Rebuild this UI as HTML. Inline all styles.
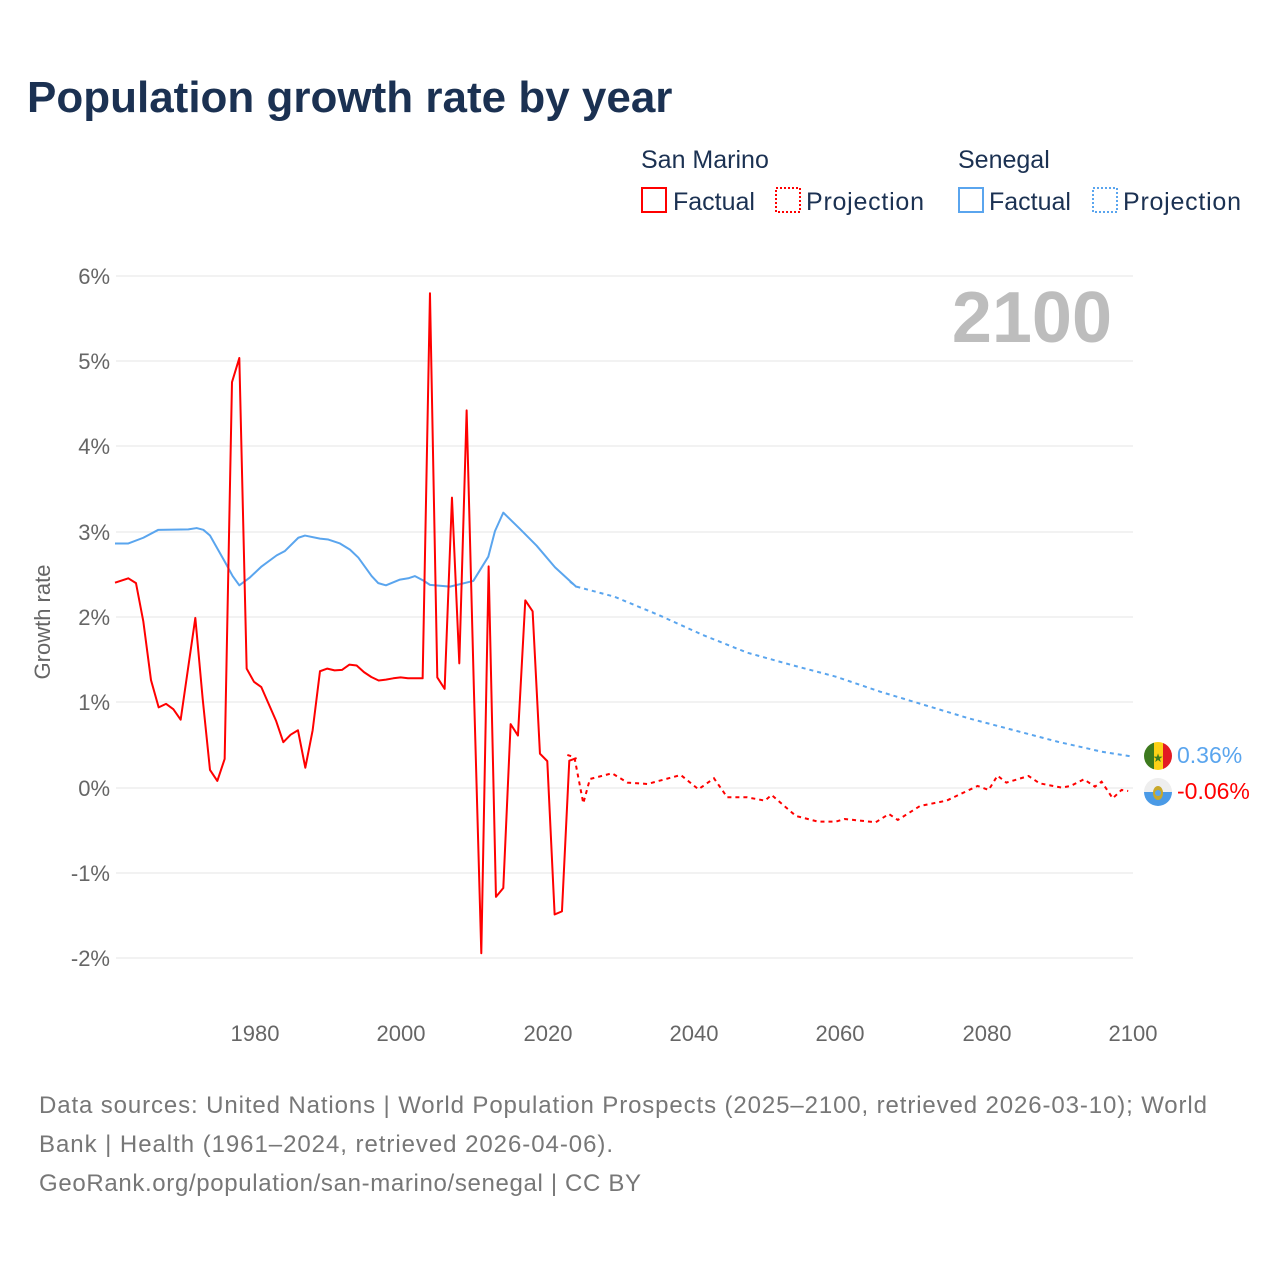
<!DOCTYPE html>
<html><head><meta charset="utf-8"><style>
html,body{margin:0;padding:0;background:#fff;}
body{width:1280px;height:1280px;position:relative;font-family:"Liberation Sans",sans-serif;overflow:hidden;}
</style></head><body>
<svg width="1280" height="1280" viewBox="0 0 1280 1280" xmlns="http://www.w3.org/2000/svg" style="position:absolute;left:0;top:0">
<text x="27" y="112" font-size="44" font-weight="bold" fill="#1b3152" font-family="Liberation Sans, sans-serif">Population growth rate by year</text>
<g font-size="25" fill="#1b3152" font-family="Liberation Sans, sans-serif">
<text x="641" y="168">San Marino</text>
<text x="958" y="168">Senegal</text>
<rect x="642" y="188" width="24" height="24" fill="none" stroke="#f00" stroke-width="2"/>
<text x="673" y="210">Factual</text>
<rect x="776" y="188" width="24" height="24" fill="none" stroke="#f00" stroke-width="2" stroke-dasharray="2,2"/>
<text x="806" y="210" textLength="118">Projection</text>
<rect x="959" y="188" width="24" height="24" fill="none" stroke="#5aa5ee" stroke-width="2"/>
<text x="989" y="210">Factual</text>
<rect x="1093" y="188" width="24" height="24" fill="none" stroke="#5aa5ee" stroke-width="2" stroke-dasharray="2,2"/>
<text x="1123" y="210" textLength="118">Projection</text>
</g>
<g stroke="#e6e6e6" stroke-width="1">
<line x1="116" x2="1133" y1="276" y2="276"/><line x1="116" x2="1133" y1="361" y2="361"/>
<line x1="116" x2="1133" y1="446" y2="446"/><line x1="116" x2="1133" y1="532" y2="532"/>
<line x1="116" x2="1133" y1="617" y2="617"/><line x1="116" x2="1133" y1="702" y2="702"/>
<line x1="116" x2="1133" y1="788" y2="788"/><line x1="116" x2="1133" y1="873" y2="873"/>
<line x1="116" x2="1133" y1="958" y2="958"/>
</g>
<g font-size="22" fill="#666" text-anchor="end" font-family="Liberation Sans, sans-serif">
<text x="110" y="284">6%</text><text x="110" y="369">5%</text><text x="110" y="454">4%</text>
<text x="110" y="540">3%</text><text x="110" y="625">2%</text><text x="110" y="710">1%</text>
<text x="110" y="796">0%</text><text x="110" y="881">-1%</text><text x="110" y="966">-2%</text>
</g>
<g font-size="22" fill="#666" text-anchor="middle" font-family="Liberation Sans, sans-serif">
<text x="255" y="1041">1980</text><text x="401" y="1041">2000</text><text x="548" y="1041">2020</text>
<text x="694" y="1041">2040</text><text x="840" y="1041">2060</text><text x="987" y="1041">2080</text>
<text x="1133" y="1041">2100</text>
</g>
<text transform="translate(50,622) rotate(-90)" font-size="22" fill="#666" text-anchor="middle" font-family="Liberation Sans, sans-serif">Growth rate</text>
<text x="1112" y="342" font-size="72" font-weight="bold" fill="#bdbdbd" text-anchor="end" font-family="Liberation Sans, sans-serif">2100</text>
<g transform="translate(110,280) scale(0.3333,0.4406)" fill="none" stroke-linejoin="round">
<polyline vector-effect="non-scaling-stroke" stroke="#5aa5ee" stroke-width="2" points="15,598 55,598 100,585 145,567 235,566 260,563 280,567 300,580 345,640 368,672 388,693 420,675 455,650 500,625 525,615 565,585 585,580 630,587 655,589 690,598 720,612 745,630 785,672 805,688 828,693 870,680 895,677 915,672 940,682 960,692 1020,696 1090,683 1135,628 1155,570 1180,528 1230,565 1280,603 1335,652 1400,697"/>
<polyline vector-effect="non-scaling-stroke" stroke="#f00" stroke-width="2" points="15,687 55,677 78,688 100,775 123,908 146,970 168,962 190,974 212,998 256,767 278,950 300,1112 322,1137 344,1087 366,232 388,177 410,882 432,912 454,924 476,962 498,1000 520,1049 542,1032 564,1022 586,1107 608,1022 630,888 652,882 674,886 696,885 718,873 740,875 762,890 784,901 806,909 828,907 850,904 872,902 894,904 916,904 938,904 960,30 982,902 1004,928 1026,494 1048,870 1070,296 1092,935 1114,1528 1136,650 1158,1400 1180,1380 1202,1008 1224,1034 1246,727 1268,752 1290,1075 1312,1092 1334,1440 1356,1433 1378,1091 1400,1085"/>
</g>
<g transform="translate(570,560) scale(0.443,0.3333)" fill="none">
<polyline vector-effect="non-scaling-stroke" stroke="#5aa5ee" stroke-width="2" stroke-dasharray="4,4" points="0,65 15,80 100,110 200,165 300,225 400,278 500,315 600,350 700,395 800,435 900,475 1000,510 1100,545 1200,575 1270,590"/>
<polyline vector-effect="non-scaling-stroke" stroke="#f00" stroke-width="2" stroke-dasharray="4,4" points="-6,585 10,592 30,730 45,657 95,640 130,668 175,672 250,645 290,688 325,655 355,712 400,712 440,722 455,705 510,768 560,785 600,785 620,777 690,787 720,762 740,780 790,738 850,722 920,678 945,690 965,647 985,668 1035,648 1060,670 1110,683 1130,678 1160,658 1185,680 1200,665 1225,715 1245,690 1260,693"/>
</g>
<defs>
<clipPath id="c1"><circle cx="1158" cy="756" r="14"/></clipPath>
<clipPath id="c2"><circle cx="1158" cy="792" r="14"/></clipPath>
</defs>
<g clip-path="url(#c1)">
<rect x="1144" y="742" width="10" height="28" fill="#3d7a1e"/>
<rect x="1154" y="742" width="9" height="28" fill="#fcd116"/>
<rect x="1163" y="742" width="10" height="28" fill="#e31b23"/>
<text x="1158" y="762" font-size="12" fill="#3d7a1e" text-anchor="middle">★</text>
</g>
<g clip-path="url(#c2)">
<rect x="1144" y="778" width="28" height="14" fill="#eee"/>
<rect x="1144" y="792" width="28" height="14" fill="#4a9ae6"/>
<ellipse cx="1158" cy="793" rx="5" ry="7" fill="#c8a82a"/>
<circle cx="1158" cy="793" r="3" fill="#5aa5ee"/>
</g>
<text x="1177" y="763" font-size="23" fill="#5aa5ee" font-family="Liberation Sans, sans-serif">0.36%</text>
<text x="1177" y="799" font-size="23" fill="#f00" font-family="Liberation Sans, sans-serif">-0.06%</text>
<g font-size="24" fill="#777" font-family="Liberation Sans, sans-serif">
<text x="39" y="1113" textLength="1168">Data sources: United Nations | World Population Prospects (2025–2100, retrieved 2026-03-10); World</text>
<text x="39" y="1152" textLength="574">Bank | Health (1961–2024, retrieved 2026-04-06).</text>
<text x="39" y="1191" textLength="602">GeoRank.org/population/san-marino/senegal | CC BY</text>
</g>
</svg>
</body></html>
